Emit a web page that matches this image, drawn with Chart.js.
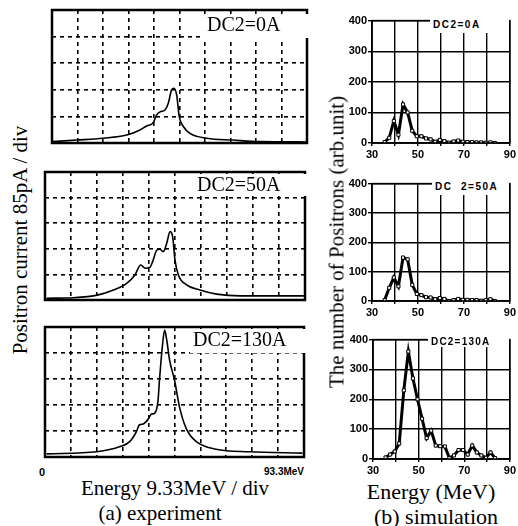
<!DOCTYPE html>
<html>
<head>
<meta charset="utf-8">
<script src="https://cdn.jsdelivr.net/npm/chart.js@4"></script>
<style>
  body{margin:0;background:#fff;}
  #wrap{position:relative;width:518px;height:526px;overflow:hidden;background:#fff;}
  canvas{position:absolute;}
  .t{position:absolute;white-space:pre;color:#000;line-height:1;}
  .serif{font-family:"Liberation Serif","Times New Roman",serif;}
  .sans{font-family:"Liberation Sans",Arial,sans-serif;font-weight:bold;}
  .box{background:#fff;}
</style>
</head>
<body>
<div id="wrap">
  <canvas id="a1"></canvas>
  <canvas id="a2"></canvas>
  <canvas id="a3"></canvas>
  <canvas id="b1"></canvas>
  <canvas id="b2"></canvas>
  <canvas id="b3"></canvas>

  <!-- panel labels (white box hides the grid under the text) -->
  <div class="t serif box" style="left:203px;top:14px;width:103px;height:24px;font-size:20px;padding-left:4px;">DC2=0A</div>
  <div class="t serif box" style="left:194px;top:174px;width:110px;height:22px;font-size:20px;padding-left:3px;">DC2=50A</div>
  <div class="t serif box" style="left:190px;top:329px;width:113px;height:24px;font-size:20px;padding-left:3px;">DC2=130A</div>

  <div class="t sans box" style="left:430px;top:18px;width:79px;height:15px;font-size:10px;letter-spacing:1.5px;padding:2px 0 0 3px;box-sizing:border-box;">DC2=0A</div>
  <div class="t sans box" style="left:432px;top:181px;width:77px;height:14px;font-size:10px;letter-spacing:1.5px;padding:1px 0 0 3px;box-sizing:border-box;">DC  2=50A</div>
  <div class="t sans box" style="left:428px;top:337px;width:81px;height:10px;font-size:10px;letter-spacing:1.2px;padding:0 0 0 3px;box-sizing:border-box;">DC2=130A</div>

  <!-- left axis texts -->
  <div class="t sans" style="left:39px;top:467px;font-size:11px;">0</div>
  <div class="t sans" style="left:264px;top:467px;font-size:10px;">93.3MeV</div>
  <div class="t serif" style="left:10px;width:330px;top:478px;text-align:center;font-size:21px;">Energy 9.33MeV / div</div>
  <div class="t serif" style="left:0;width:320px;top:503px;text-align:center;font-size:21px;">(a) experiment</div>
  <div class="t serif" style="left:20px;top:240px;font-size:21px;transform:translate(-50%,-50%) rotate(-90deg);">Positron current 85pA / div</div>

  <!-- right axis texts -->
  <div class="t serif" style="left:336px;width:190px;top:481px;text-align:center;font-size:22px;">Energy (MeV)</div>
  <div class="t serif" style="left:341px;width:190px;top:506px;text-align:center;font-size:22px;">(b) simulation</div>
  <div class="t serif" style="left:337px;top:242px;font-size:21px;transform:translate(-50%,-50%) rotate(-90deg);">The number of Positrons (arb.unit)</div>
</div>

<script>
// ---- (a) experiment: x in divisions (9.33 MeV/div), y in divisions (85 pA/div)
const exp0A_x   = [0, 0.97, 2.0, 2.93, 3.45, 3.71, 3.97, 4.1, 4.24, 4.43, 4.56, 4.69, 4.78, 4.89, 4.99, 5.15, 5.41, 6.07, 7.1, 8.16, 10];
const exp0A_y   = [0.05, 0.11, 0.18, 0.3, 0.49, 0.64, 0.76, 1.05, 1.17, 1.24, 1.49, 2.0, 2.06, 1.8, 0.99, 0.62, 0.36, 0.18, 0.11, 0.05, 0.04];
const exp50A_x  = [0.06, 1.09, 2.05, 2.63, 3.14, 3.46, 3.68, 3.85, 4.04, 4.14, 4.3, 4.42, 4.55, 4.68, 4.81, 4.91, 5.0, 5.13, 5.45, 5.96, 6.6, 7.5, 9.17, 10];
const exp50A_y  = [0.07, 0.09, 0.2, 0.39, 0.65, 0.98, 1.37, 1.24, 1.28, 1.5, 1.95, 1.98, 1.89, 2.21, 2.67, 2.47, 1.56, 0.98, 0.59, 0.39, 0.23, 0.16, 0.16, 0.16];
const exp130A_x = [0.06, 2.0, 2.9, 3.28, 3.53, 3.64, 3.79, 3.98, 4.11, 4.23, 4.36, 4.42, 4.53, 4.62, 4.7, 4.81, 5.0, 5.19, 5.45, 5.83, 6.6, 7.88, 9.94];
const exp130A_y = [0.12, 0.2, 0.4, 0.6, 0.98, 1.23, 1.27, 1.45, 1.65, 1.68, 2.13, 2.96, 4.24, 4.88, 4.5, 3.73, 2.96, 1.94, 1.1, 0.6, 0.3, 0.2, 0.15];

// ---- (b) simulation: energy (MeV) vs counts (arb.unit)
const simEnergy = [35.5, 37.5, 39.5, 41.5, 43.5, 45.5, 47.5, 49.5, 51.5, 53.5, 55.5, 57.5, 59.5, 61.5, 63.5, 65.5, 67.5, 69.5, 71.5, 73.5, 75.5, 77.5, 79.5, 81.5, 83.5];
const sim0A     = [3, 17, 72, 27, 126, 100, 40, 22, 22, 15, 12, 4, 10, 6, 1, 5, 8, 4, 3, 3, 2, 2, 1, 2, 0];
const sim50A    = [3, 45, 80, 50, 148, 142, 55, 24, 20, 13, 12, 6, 10, 7, 0, 3, 7, 4, 4, 3, 3, 1, 3, 6, 0];
const sim130A   = [5, 15, 25, 52, 230, 360, 270, 200, 135, 70, 95, 45, 43, 42, 3, 12, 30, 30, 15, 45, 22, 12, 4, 22, 3];
const simXTicks = [30, 50, 70, 90];

const $ = (s,r=document)=>r.querySelector(s);

// frame around the plot area
const framePlugin = {
  id:'frame',
  afterDatasetsDraw(chart, args, opts){
    const {ctx, chartArea:a} = chart;
    ctx.save();
    ctx.strokeStyle = '#000';
    ctx.lineWidth = opts.width || 2;
    ctx.strokeRect(a.left, a.top, a.right-a.left, a.bottom-a.top);
    ctx.restore();
  }
};

function place(id, left, top, w, h){
  const c = $('#'+id);
  c.width = w; c.height = h;
  c.style.left = left+'px'; c.style.top = top+'px';
  c.style.width = w+'px'; c.style.height = h+'px';
  return c;
}

// plot area given as left/top/right/bottom in page pixels
function expChart(id, area, xs, ys){
  const pad = 3;
  const c = place(id, area[0]-pad, area[1]-pad, area[2]-area[0]+2*pad, area[3]-area[1]+2*pad);
  const data = xs.map((x,i)=>({x, y: ys[i]}));
  return new Chart(c.getContext('2d'), {
    type:'line',
    data:{ datasets:[{ data, borderColor:'#000', borderWidth:1.6, pointRadius:0,
                       cubicInterpolationMode:'monotone', fill:false }] },
    options:{
      responsive:false, animation:false, devicePixelRatio:1,
      layout:{ padding:pad },
      plugins:{ legend:{display:false}, tooltip:{enabled:false}, frame:{width:2.5} },
      scales:{
        x:{ type:'linear', min:0, max:10,
            ticks:{ display:false, stepSize:1 },
            grid:{ color:'#000', lineWidth:1.6, drawTicks:false },
            border:{ display:false, dash:[4,4] } },
        y:{ min:0, max:5,
            ticks:{ display:false, stepSize:1 },
            grid:{ color:'#000', lineWidth:1.6, drawTicks:false },
            border:{ display:false, dash:[4,4] } }
      }
    },
    plugins:[framePlugin]
  });
}

function simChart(id, area, ys){
  const yW = 30, xH = 18, padR = 8, padT = 4;
  const left = area[0]-yW, top = area[1]-padT;
  const c = place(id, left, top, area[2]-left+padR, area[3]-top+xH);
  const data = simEnergy.map((x,i)=>({x, y: ys[i]}));
  const tickFont = { family:'"Liberation Sans", Arial, sans-serif', weight:'bold', size:11 };
  return new Chart(c.getContext('2d'), {
    type:'line',
    data:{ datasets:[{ data, borderColor:'#000', borderWidth:3, tension:0,
                       pointStyle:'rect', pointRadius:2.2, pointBorderWidth:1,
                       pointBackgroundColor:'#fff', pointBorderColor:'#000' }] },
    options:{
      responsive:false, animation:false, devicePixelRatio:1,
      layout:{ padding:{ left:0, top:padT, right:padR, bottom:0 } },
      plugins:{ legend:{display:false}, tooltip:{enabled:false}, frame:{width:1.5} },
      scales:{
        x:{ type:'linear', min:30, max:90,
            afterFit:s=>{ s.height = xH; },
            ticks:{ stepSize:10, padding:2, color:'#000', font:tickFont, maxRotation:0,
                    callback:v=> simXTicks.includes(v) ? String(v) : '' },
            grid:{ color:'#000', lineWidth:1.4, tickLength:3 },
            border:{ color:'#000', width:1.5 } },
        y:{ min:0, max:400,
            afterFit:s=>{ s.width = yW; },
            ticks:{ stepSize:100, padding:1, color:'#000', font:tickFont },
            grid:{ color:'#000', lineWidth:1.4, tickLength:4 },
            border:{ color:'#000', width:1.5 } }
      }
    },
    plugins:[framePlugin]
  });
}

expChart('a1', [52, 10, 307, 143], exp0A_x, exp0A_y);
expChart('a2', [45, 172, 305, 300], exp50A_x, exp50A_y);
expChart('a3', [45, 327, 304, 457], exp130A_x, exp130A_y);

simChart('b1', [372, 17, 510, 143], sim0A);
simChart('b2', [372, 180, 510, 301], sim50A);
simChart('b3', [373, 336, 510, 459], sim130A);
</script>
</body>
</html>
